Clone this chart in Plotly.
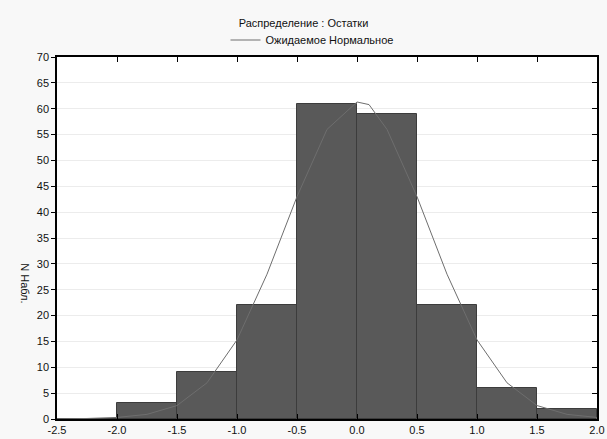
import plotly.graph_objects as go

# Histogram bins (left edges) and observed counts
bin_left = [-2.5, -2.0, -1.5, -1.0, -0.5, 0.0, 0.5, 1.0, 1.5]
counts = [0, 3, 9, 22, 61, 59, 22, 6, 2]
bin_width = 0.5

# Expected normal curve
curve_x = [-2.5, -2.25, -2.0, -1.75, -1.5, -1.25, -1.0, -0.75, -0.5, -0.25, 0.0, 0.1, 0.25, 0.5, 0.75, 1.0, 1.25, 1.5, 1.75, 2.0]
curve_y = [0.05, 0.1, 0.3, 0.9, 2.6, 7.0, 15.3, 28.0, 43.0, 56.0, 61.3, 60.8, 56.0, 43.0, 28.0, 15.3, 7.0, 2.6, 0.9, 0.3]

x_ticks = [-2.5, -2.0, -1.5, -1.0, -0.5, 0.0, 0.5, 1.0, 1.5, 2.0]
x_tick_text = ["-2.5", "-2.0", "-1.5", "-1.0", "-0.5", "0.0", "0.5", "1.0", "1.5", "2.0"]

title_text = "Распределение : Остатки"
legend_text = "Ожидаемое Нормальное"
y_label = "N Набл."

FONT = "Liberation Sans, Arial, sans-serif"

fig = go.Figure()
fig.add_trace(go.Bar(
    x=bin_left, y=counts, width=bin_width, offset=0,
    marker=dict(color="#595959", line=dict(color="#3c3c3c", width=1)),
    showlegend=False, hoverinfo="skip",
))
fig.add_trace(go.Scatter(
    x=curve_x, y=curve_y, mode="lines", name=legend_text,
    line=dict(color="#6e6e6e", width=1), yaxis="y2",
))

fig.update_layout(
    width=607, height=439,
    margin=dict(l=57, r=10, t=57, b=20, autoexpand=False),
    paper_bgcolor="#f8f8f8", plot_bgcolor="#ffffff",
    font=dict(family=FONT, size=11, color="#111111"),
    bargap=0,
    title=dict(text=title_text, x=0.5, xanchor="center", y=1 - 23 / 439, yanchor="middle",
               font=dict(family=FONT, size=11, color="#111111")),
    legend=dict(orientation="h", x=0.5 - 15 / 540, xanchor="center", y=1 + 17 / 362, yanchor="middle",
                bgcolor="rgba(0,0,0,0)", font=dict(size=11), itemwidth=30),
    xaxis=dict(range=[-2.5, 2.0], tickvals=x_ticks, ticktext=x_tick_text,
               showgrid=False, zeroline=False, showline=True, linecolor="#000000", linewidth=1.5,
               ticks="inside", ticklen=5, tickcolor="#000000", mirror="ticks"),
    yaxis=dict(range=[0, 70], dtick=5, showgrid=True, gridcolor="#ececec", gridwidth=1,
               zeroline=False, showline=True, linecolor="#000000", linewidth=1.5,
               ticks="outside", ticklen=4, tickcolor="#000000"),
    yaxis2=dict(range=[0, 70], dtick=5, overlaying="y", side="right", showgrid=False,
                zeroline=False, showline=True, linecolor="#000000", linewidth=1.5,
                ticks="inside", ticklen=5, tickcolor="#000000", showticklabels=False),
)

fig.add_annotation(text=y_label, xref="paper", yref="paper", x=-40 / 540, y=0.375,
                   showarrow=False, textangle=90, font=dict(size=11, color="#111111"))

fig.write_html("out.html", config={"displayModeBar": False},
               post_script="document.body.style.margin='0';document.body.style.background='#f8f8f8';")
